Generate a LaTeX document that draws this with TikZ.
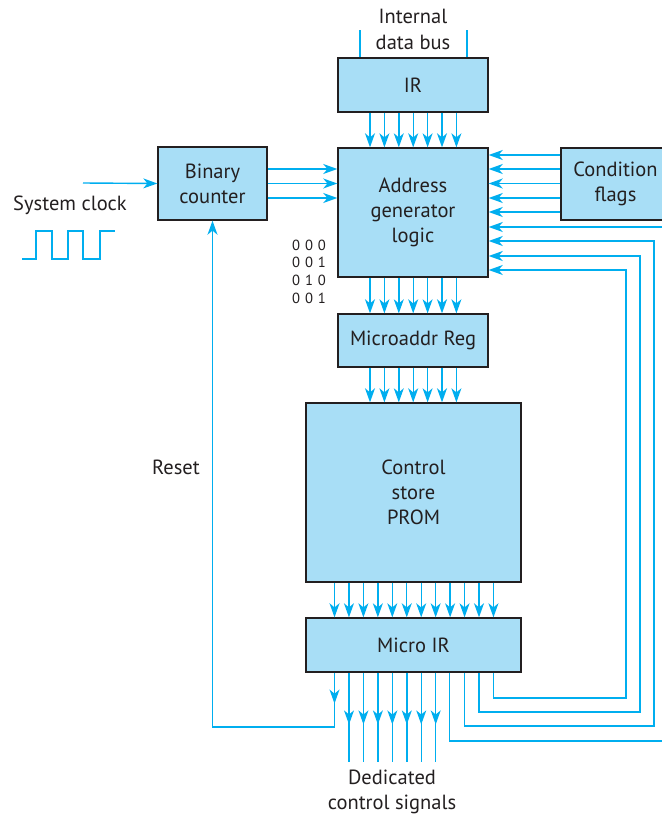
\documentclass[tikz,border=0pt]{standalone}
\usepackage{fontspec}
\setmainfont{PT Sans}
\usetikzlibrary{arrows.meta, positioning, decorations.markings}

\definecolor{boxfill}{RGB}{168,222,246}
\definecolor{sigcol}{RGB}{0,174,239}
\definecolor{inkcol}{RGB}{35,31,32}

\begin{document}
\begin{tikzpicture}[x=0.03cm, y=-0.03cm,
    blk/.style={draw=inkcol, fill=boxfill, line width=1.1pt, text=inkcol, align=center, inner sep=0pt, font=\fontsize{17.5}{21.5}\selectfont},
    lbl/.style={text=inkcol, align=center, inner sep=0pt, font=\fontsize{17.5}{21.5}\selectfont},
    sig/.style={color=sigcol, line width=1.2pt},
    sigarr/.style={-{Stealth[length=12pt, width=8.5pt, inset=3.5pt]}},
    midarr/.style={postaction={decorate}, decoration={markings, mark=at position #1 with {\arrow{Stealth[length=12pt, width=8.5pt, inset=3.5pt]}}}}]
    \useasboundingbox (0,0) rectangle (661,816);

    % Blocks
    \node[blk, minimum width=4.5cm, minimum height=1.62cm] (ir) at (413,85) {IR};
    \node[blk, minimum width=4.5cm, minimum height=3.87cm] (addr) at (413,212.5) {Address\\generator\\logic};
    \node[blk, minimum width=4.5cm, minimum height=1.59cm] (mar) at (413,340.5) {Microaddr Reg};
    \node[blk, minimum width=6.45cm, minimum height=5.37cm] (prom) at (413.5,492.5) {Control\\store\\PROM};
    \node[blk, minimum width=6.45cm, minimum height=1.62cm] (mir) at (413.5,645) {Micro IR};
    \node[blk, minimum width=3.27cm, minimum height=2.19cm] (cnt) at (212.5,183.5) {Binary\\counter};
    \node[blk, minimum width=3.27cm, minimum height=2.16cm] (flags) at (615.5,184) {Condition\\flags};

    % Labels
    \node[lbl] (bus) at (413,29.5) {Internal\\data bus};
    \node[lbl] (clk) at (70,205) {System clock};
    \node[lbl] (reset) at (176,467) {Reset};
    \node[lbl] (ded) at (392,792) {Dedicated\\control signals};
    \node[lbl, align=left, font=\fontsize{12.5}{15.1}\selectfont] (bits) at (309,271.5) {0\,\,0\,\,0\\0\,\,0\,\,1\\0\,\,1\,\,0\\0\,\,0\,\,1};

    % Bus into IR
    \coordinate (busl) at (360,30);
    \coordinate (busr) at (467,30);
    \draw[sig] (ir.north -| busl) -- (busl);
    \draw[sig] (ir.north -| busr) -- (busr);

    % Clock and counter
    \draw[sig] (22,259) -- (36,259) -- (36,231) -- (52,231) -- (52,259) -- (68,259) -- (68,231)
        -- (83,231) -- (83,259) -- (100,259) -- (100,231) -- (115,231);
    \draw[sig, sigarr] (83,183) -- (cnt.west);
    \foreach \y in {169,183.5,198}
        \draw[sig, sigarr] (cnt.east |- 0,\y) -- (addr.west |- 0,\y);

    % Vertical buses
    \foreach \x in {370,384.4,...,457}
        \draw[sig, sigarr] (ir.south -| \x,0) -- (addr.north -| \x,0);
    \foreach \x in {370,384.4,...,457}
        \draw[sig, sigarr] (addr.south -| \x,0) -- (mar.north -| \x,0);
    \foreach \x in {370,384.4,...,457}
        \draw[sig, sigarr] (mar.south -| \x,0) -- (prom.north -| \x,0);
    \foreach \x in {334.5,348.95,...,494}
        \draw[sig, sigarr] (prom.south -| \x,0) -- (mir.north -| \x,0);

    % Condition flags
    \foreach \y in {155,169,183.5,198,212}
        \draw[sig, sigarr] (flags.west |- 0,\y) -- (addr.east |- 0,\y);

    % Dedicated control signals
    \foreach \x in {349,363.45,...,436}
        \draw[sig, midarr=0.58] (mir.south -| \x,0) -- (\x,762);

    % Reset
    \coordinate (rst) at (334.5,727);
    \draw[sig, midarr=0.57] (mir.south -| rst) -- (rst);
    \draw[sig, sigarr] (rst) -| (cnt.south);

    % Feedback to address logic
    \draw[sig, sigarr] (mir.south -| 493.5,0) |- (626,698) |- (addr.east |- 0,270);
    \draw[sig, sigarr] (mir.south -| 479,0) |- (640,712) |- (addr.east |- 0,256);
    \draw[sig, sigarr] (mir.south -| 464.5,0) |- (654,726) |- (addr.east |- 0,241);
    \draw[sig, sigarr] (mir.south -| 449.5,0) |- (680,741) |- (addr.east |- 0,227);
\end{tikzpicture}
\end{document}
